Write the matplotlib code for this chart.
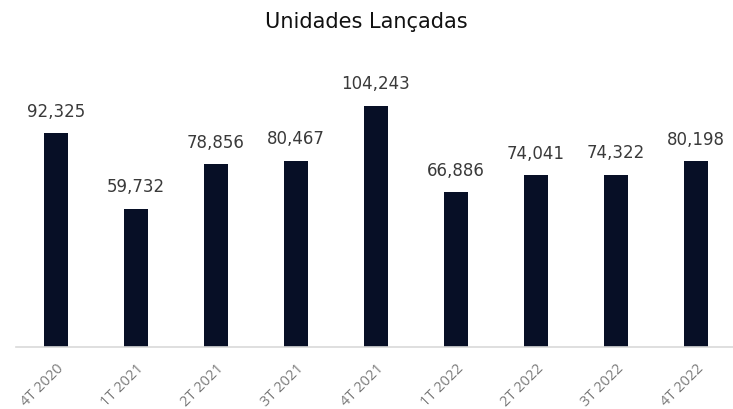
import matplotlib
matplotlib.use("Agg")
import matplotlib.pyplot as plt
import matplotlib.transforms as mtransforms

quarters = ["4T 2020", "1T 2021", "2T 2021", "3T 2021", "4T 2021",
            "1T 2022", "2T 2022", "3T 2022", "4T 2022"]
units = [92325, 59732, 78856, 80467, 104243, 66886, 74041, 74322, 80198]

fig = plt.figure(figsize=(7.33, 4.09), dpi=100)
ax = fig.add_axes([16 / 733, 62 / 409, 720 / 733, 278 / 409])

x = range(len(quarters))
bars = ax.bar(x, units, width=0.31, color="#070f26")

for xi, v in zip(x, units):
    ax.annotate(f"{v:,}", (xi, v), xytext=(0, 9), textcoords="offset points",
                ha="center", va="bottom", fontsize=12, color="#3a3a3a")

ax.set_xlim(-0.5, 8.5)
ax.set_ylim(0, 120000)
ax.set_xticks(list(x))
ax.set_xticklabels(quarters, rotation=45, ha="right", rotation_mode="anchor",
                   fontsize=10.5, color="#7a7a7a", family="Open Sans")
# nudge rotated labels slightly left of the bar centre
shift = mtransforms.ScaledTranslation(-4 / 100, 0, fig.dpi_scale_trans)
for lbl in ax.get_xticklabels():
    lbl.set_transform(lbl.get_transform() + shift)
ax.tick_params(axis="x", length=0, pad=10)
ax.set_yticks([])
for side in ["top", "right", "left"]:
    ax.spines[side].set_visible(False)
ax.spines["bottom"].set_color("#d9d9d9")
ax.spines["bottom"].set_linewidth(1.2)

fig.text(0.5, 1 - 22 / 409, "Unidades Lançadas", ha="center", va="center",
         fontsize=15, color="#111111")

fig.savefig("out.png", dpi=100)
